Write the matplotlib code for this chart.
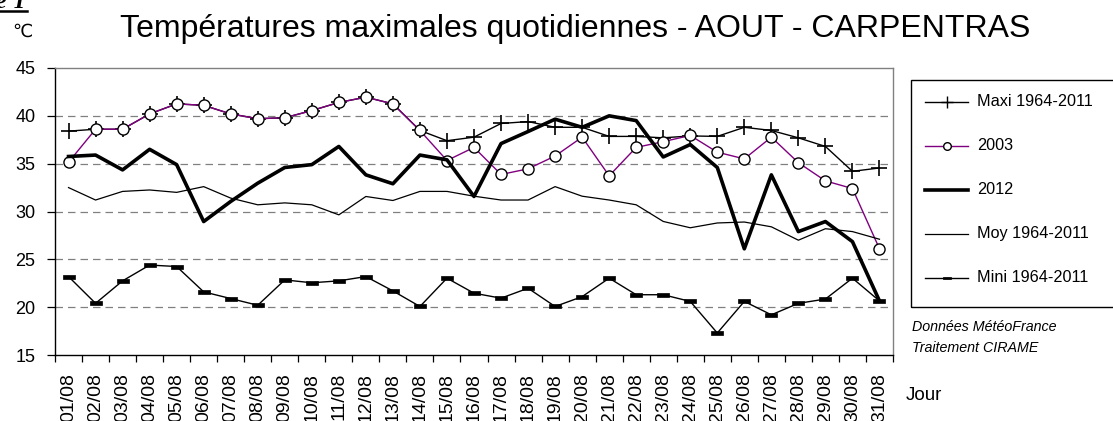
import matplotlib
matplotlib.use("Agg")
import matplotlib.pyplot as plt
from matplotlib.lines import Line2D
from matplotlib.patches import Rectangle
from matplotlib.path import Path
import numpy as np

plt.rcParams['font.family'] = ['Liberation Sans', 'DejaVu Sans']

days = ["%02d/08" % d for d in range(1, 32)]
maxi = [38.4, 38.6, 38.6, 40.2, 41.25, 41.1, 40.2, 39.7, 39.8, 40.55, 41.4, 41.95, 41.25, 38.47, 37.4, 37.77,
        39.2, 39.4, 38.8, 38.8, 37.85, 37.85, 37.7, 37.9, 37.85, 38.8, 38.47, 37.7, 36.8, 34.2, 34.55]
y2003 = [35.15, 38.6, 38.6, 40.2, 41.25, 41.1, 40.2, 39.7, 39.8, 40.55, 41.4, 41.95, 41.25, 38.47, 35.33, 36.7,
         33.87, 34.46, 35.8, 37.77, 33.73, 36.7, 37.3, 37.95, 36.2, 35.5, 37.77, 35.1, 33.2, 32.4, 26.1]
y2012 = [35.75, 35.9, 34.35, 36.5, 34.9, 28.95, 31.05, 32.96, 34.6, 34.9, 36.8, 33.83, 32.9, 35.9, 35.4, 31.57,
         37.1, 38.36, 39.65, 38.8, 40.0, 39.5, 35.7, 37.0, 34.6, 26.1, 33.83, 27.9, 28.95, 26.85, 20.65]
moy = [32.5, 31.2, 32.1, 32.25, 32.0, 32.6, 31.4, 30.7, 30.9, 30.7, 29.65, 31.57, 31.15, 32.1, 32.1, 31.6,
       31.2, 31.2, 32.6, 31.6, 31.2, 30.7, 28.96, 28.3, 28.8, 28.9, 28.4, 27.0, 28.2, 27.9, 27.1]
mini = [23.2, 20.4, 22.75, 24.4, 24.25, 21.6, 20.9, 20.2, 22.85, 22.55, 22.75, 23.2, 21.7, 20.07, 23.03, 21.46,
        20.94, 21.98, 20.07, 21.1, 23.03, 21.3, 21.3, 20.6, 17.3, 20.6, 19.2, 20.4, 20.85, 23.03, 20.65]
labels = ["Maxi 1964-2011", "2003", "2012", "Moy 1964-2011", "Mini 1964-2011"]
yticks = [15, 20, 25, 30, 35, 40, 45]

W, H = 1113, 421
fig = plt.figure(figsize=(W / 100, H / 100), dpi=100)


def fx(x):
    return x / W


def fy(y):
    return 1 - y / H


ax = fig.add_axes([fx(55), fy(355), fx(893) - fx(55), fy(68) - fy(355)])
x = np.arange(len(days))

purple = '#800080'
dash_marker = Path([(-1, -0.35), (1, -0.35), (1, 0.35), (-1, 0.35), (-1, -0.35)],
                   [Path.MOVETO, Path.LINETO, Path.LINETO, Path.LINETO, Path.CLOSEPOLY])

ax.plot(x, maxi, color='black', lw=1.0, marker='+', ms=11, mew=1.2, zorder=3)
ax.plot(x, y2003, color=purple, lw=1.0, marker='o', ms=8, mfc='white', mec='black', mew=1.0, zorder=4)
ax.plot(x, y2012, color='black', lw=2.6, zorder=5)
ax.plot(x, moy, color='black', lw=0.9, zorder=5)
ax.plot(x, mini, color='black', lw=1.0, marker=dash_marker, ms=8, mfc='black', mec='black', mew=0.5, zorder=5)

ax.set_xlim(-0.5, len(days) - 0.5)
ax.set_ylim(15, 45)
ax.set_yticks(yticks)
ax.set_yticklabels([str(v) for v in yticks], fontsize=13)
for v in yticks[1:-1]:
    ax.axhline(v, color='#808080', lw=0.9, ls=(0, (6, 4)), zorder=1)

ax.set_xticks(x)
ax.set_xticklabels(days, rotation=90, fontsize=14)
ax.set_xticks(np.arange(-0.5, len(days)), minor=True)
ax.tick_params(axis='x', which='major', length=0, pad=13)
ax.tick_params(axis='x', which='minor', length=5, width=0.9, direction='out')
ax.tick_params(axis='y', length=6, width=0.9, pad=8)
for t in ax.get_xticklabels():
    t.set_va('top')

for s in ['top', 'right']:
    ax.spines[s].set_color('#808080')
    ax.spines[s].set_linewidth(1.0)
for s in ['left', 'bottom']:
    ax.spines[s].set_color('black')
    ax.spines[s].set_linewidth(1.0)

# title and labels
fig.text(fx(120), fy(37), "Températures maximales quotidiennes - AOUT - CARPENTRAS",
         fontsize=23, ha='left', va='baseline')
fig.text(fx(12), fy(32), "℃", fontsize=13, ha='left', va='center')
fig.text(fx(-4), fy(8), "e T", fontsize=17, ha='left', va='baseline', style='italic', weight='bold',
         family=['Liberation Serif', 'DejaVu Serif'])
fig.add_artist(Line2D([fx(0), fx(27)], [fy(11), fy(11)], color='black', lw=1.8))
fig.text(fx(906), fy(396), "Jour", fontsize=13.5, ha='left', va='center')
fig.text(fx(912), fy(327), "Données MétéoFrance", fontsize=10.3, style='italic', ha='left', va='center')
fig.text(fx(912), fy(348), "Traitement CIRAME", fontsize=10.3, style='italic', ha='left', va='center')

# legend box
fig.add_artist(Rectangle((fx(911), fy(307)), fx(1125) - fx(911), fy(80) - fy(307),
                         transform=fig.transFigure, fill=False, ec='black', lw=1.0))
ly = [102, 146, 190, 234, 278]
line_styles = [
    dict(color='black', lw=1.0),
    dict(color=purple, lw=1.0),
    dict(color='black', lw=2.6),
    dict(color='black', lw=0.9),
    dict(color='black', lw=1.0),
]
marker_styles = [
    dict(marker='+', ms=8, mew=1.0, color='black'),
    dict(marker='o', ms=5.5, mfc='white', mec='black', mew=1.0),
    None,
    None,
    dict(marker=dash_marker, ms=6, mfc='black', mec='black', mew=0.5),
]
for yy, lab, ls_, ms_ in zip(ly, labels, line_styles, marker_styles):
    fig.add_artist(Line2D([fx(925), fx(968)], [fy(yy), fy(yy)], transform=fig.transFigure, **ls_))
    if ms_ is not None:
        fig.add_artist(Line2D([fx(947)], [fy(yy)], transform=fig.transFigure, ls='none', **ms_))
    fig.text(fx(977), fy(yy), lab, fontsize=11.7, ha='left', va='center')

fig.savefig("out.png", dpi=100)
